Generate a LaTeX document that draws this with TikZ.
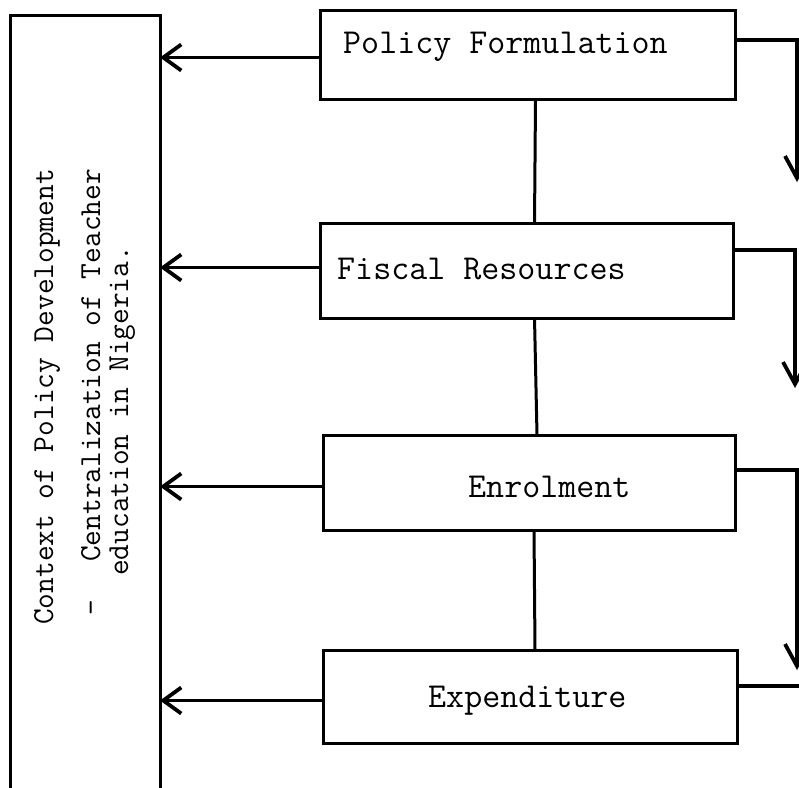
\documentclass[tikz,border=0pt]{standalone}
\usepackage{fontspec}
\usetikzlibrary{arrows.meta,calc}
\begin{document}
\begin{tikzpicture}[x=1pt,y=-1pt,
  box/.style={draw,line width=3pt,inner sep=0pt,outer sep=0pt},
  boxtext/.style={font=\fontsize{35}{40}\selectfont\ttfamily,inner sep=0pt,anchor=base west},
  sidetext/.style={font=\fontsize{30.5}{34}\selectfont\ttfamily,inner sep=0pt,anchor=base west,rotate=90},
  link/.style={line width=3pt},
  leftarrow/.style={line width=3.8pt,-{Straight Barb[length=18pt,width=26pt,line width=3.8pt]}},
  downarrow/.style={line width=3.8pt,-{Straight Barb[length=22pt,width=24pt,line width=3.8pt]}},
  stub/.style={line width=3.8pt}]
\useasboundingbox (0,0) rectangle (799,787);
\fill[white] (0,0) rectangle (799,787);
\clip (0,0) rectangle (799,787);

% left context box (open at the bottom, runs off the page)
\node[box,minimum width=150pt,minimum height=790pt] (ctx) at (85,410) {};

\node[sidetext] (ctxtitle) at (53,625) {Context of Policy Development};
\node[sidetext] (dash) at (100,616) {-};
\node[sidetext] (cent1) at (100,562) {Centralization of Teacher};
\node[sidetext] (cent2) at (128,576) {education in Nigeria.};

% boxes
\node[box,minimum width=415pt,minimum height=89pt] (pol) at (527.5,54.5) {};
\node[box,minimum width=413pt,minimum height=95pt] (fis) at (526.5,270.5) {};
\node[box,minimum width=412pt,minimum height=95pt] (enr) at (529,482.5) {};
\node[box,minimum width=414pt,minimum height=93pt] (exp) at (530,696.5) {};

\node[boxtext] (poltext) at (343,53) {Policy Formulation};
\node[boxtext] (fistext) at (337,279) {Fiscal Resources};
\node[boxtext] (enrtext) at (468,497) {Enrolment};
\node[boxtext] (exptext) at (428,707) {Expenditure};

% vertical links between boxes
\draw[link] ([xshift=8pt]pol.south) -- ([xshift=8pt]fis.north);
\draw[link] ([xshift=8pt]fis.south) -- ([xshift=8pt]enr.north);
\draw[link] ([xshift=5pt]enr.south) -- ([xshift=5pt]exp.north);

% arrows to the context box
\coordinate (l1) at ($(pol.west)+(0,3)$);
\coordinate (l2) at ($(fis.west)+(0,-3)$);
\coordinate (l3) at ($(enr.west)+(0,4)$);
\coordinate (l4) at ($(exp.west)+(0,4)$);
\draw[leftarrow] (l1) -- (l1 -| ctx.east);
\draw[leftarrow] (l2) -- (l2 -| ctx.east);
\draw[leftarrow] (l3) -- (l3 -| ctx.east);
\draw[leftarrow] (l4) -- (l4 -| ctx.east);

% right side arrows
\coordinate (r1) at (797,40);
\coordinate (r1e) at (797,182);
\coordinate (r2) at (795,250);
\coordinate (r2e) at (795,388);
\coordinate (r3) at (797,470);
\coordinate (r3e) at (797,670);
\coordinate (r4) at (799,686);
\draw[downarrow] (pol.east |- r1) -- (r1) -- (r1e);
\draw[downarrow] (fis.east |- r2) -- (r2) -- (r2e);
\draw[downarrow] (enr.east |- r3) -- (r3) -- (r3e);
\draw[stub] (exp.east |- r4) -- (r4);
\end{tikzpicture}
\end{document}
